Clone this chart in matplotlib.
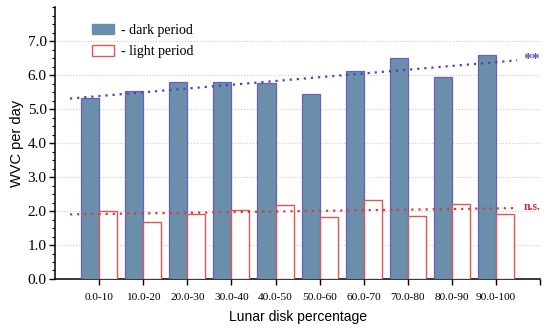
import matplotlib
matplotlib.use("Agg")
import matplotlib.pyplot as plt
from matplotlib.patches import Patch
from matplotlib.ticker import MultipleLocator
import numpy as np

# data
categories = ['0.0-10', '10.0-20', '20.0-30', '30.0-40', '40.0-50',
              '50.0-60', '60.0-70', '70.0-80', '80.0-90', '90.0-100']
dark_period = [5.34, 5.53, 5.81, 5.79, 5.77, 5.45, 6.11, 6.50, 5.95, 6.59]
light_period = [2.00, 1.69, 1.92, 2.04, 2.17, 1.83, 2.34, 1.86, 2.20, 1.91]

fig = plt.figure(figsize=(5.5, 3.29), dpi=100)
ax = fig.add_axes([0.1, 0.152, 0.882, 0.826])

x = np.arange(len(categories))
w = 0.41
azul = '#6b8fab'
borda_azul = '#6a5fc0'
vermelho = '#e05555'

ax.bar(x, dark_period, width=-w, align='edge', color=azul,
       edgecolor=borda_azul, linewidth=0.9, zorder=3)
ax.bar(x, light_period, width=w, align='edge', color='white',
       edgecolor=vermelho, linewidth=1.0, zorder=3)

# linear trends
xt = np.array([-0.66, 9.48])
c1 = np.polyfit(x, dark_period, 1)
c2 = np.polyfit(x, light_period, 1)
ax.plot(xt, np.polyval(c1, xt), linestyle=(0, (1, 2.2)), color='#4b45b5',
        linewidth=1.6, zorder=4)
ax.plot(xt, np.polyval(c2, xt), linestyle=(0, (1, 2.2)), color='#d83a3a',
        linewidth=1.6, zorder=4)
ax.text(9.62, np.polyval(c1, 9.48), '**', color='#5a50b0', fontsize=12,
        fontweight='bold', family='Liberation Serif', va='center', ha='left')
ax.text(9.62, np.polyval(c2, 9.48) + 0.03, 'n.s.', color='#c83030', fontsize=8.5,
        fontweight='bold', family='Liberation Serif', va='center', ha='left')

ax.set_xlim(-1, 10)
ax.set_ylim(0, 8)
ax.set_xticks(list(x) + [10])
ax.set_xticklabels(categories + [''], family='Liberation Serif', fontsize=8.2)
ax.set_yticks(np.arange(0, 8, 1.0))
ax.set_yticklabels([f"{v:.1f}" for v in np.arange(0, 8, 1.0)],
                   family='Liberation Serif', fontsize=11)
ax.yaxis.set_minor_locator(MultipleLocator(0.25))
ax.tick_params(axis='x', length=4, width=1, pad=6)
ax.tick_params(axis='y', which='major', length=4, width=1, pad=2)
ax.tick_params(axis='y', which='minor', length=2.5, width=0.8)
ax.grid(axis='y', linestyle=':', color='#cccccc', linewidth=0.8, zorder=0)
ax.set_axisbelow(True)

for lado in ['top', 'right']:
    ax.spines[lado].set_visible(False)
ax.spines['left'].set_linewidth(1.1)
ax.spines['bottom'].set_linewidth(1.1)

ax.set_ylabel('WVC per day', family='Liberation Sans', fontsize=10.5, labelpad=3)
ax.set_xlabel('Lunar disk percentage', family='Liberation Sans', fontsize=10, labelpad=5.5)

handles = [Patch(facecolor=azul, edgecolor=azul),
           Patch(facecolor='white', edgecolor=vermelho)]
ax.legend(handles, ['- dark period', '- light period'], loc='upper left',
          bbox_to_anchor=(0.05, 0.985), frameon=False,
          prop={'family': 'Liberation Serif', 'size': 10},
          handlelength=1.6, handleheight=0.8, handletextpad=0.5, labelspacing=0.6)

fig.savefig('out.png', dpi=100)
